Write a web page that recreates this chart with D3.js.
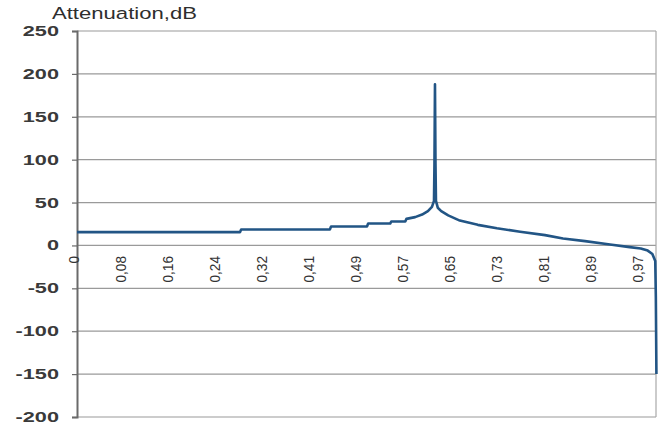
<!DOCTYPE html>
<html>
<head>
<meta charset="utf-8">
<script src="https://cdn.jsdelivr.net/npm/d3@7"></script>
<style>
  html, body { margin: 0; padding: 0; background: #fff; }
  svg { display: block; }
  text { font-family: "Liberation Sans", Arial, sans-serif; }
</style>
</head>
<body>
<svg id="chart" width="664" height="430"></svg>
<script>
// ---- data ----
const xValues = [0, 0.281, 0.283, 0.436, 0.438, 0.500, 0.502, 0.540, 0.542, 0.566, 0.568,
  0.583, 0.595, 0.605, 0.612, 0.6155, 0.6163, 0.6172, 0.6181, 0.6189, 0.622, 0.628, 0.640, 0.660, 0.691,
  0.724, 0.764, 0.807, 0.838, 0.876, 0.919, 0.953, 0.972, 0.984, 0.992, 0.997, 0.998, 0.999];
const yValues = [15.5, 15.5, 18.6, 18.6, 22, 22, 25.5, 25.5, 28, 28, 31,
  33, 36, 40, 45, 52, 95, 188, 95, 52, 44, 40, 35, 29, 24,
  20, 16, 12, 8, 5, 1, -2, -3.5, -6, -10, -18, -60, -150];
const yTicks = [-200, -150, -100, -50, 0, 50, 100, 150, 200, 250];
const xTickValues = [0, 0.081, 0.162, 0.243, 0.324, 0.405, 0.486, 0.567, 0.648, 0.729, 0.810, 0.891, 0.972];
const xTickLabels = ["0", "0,08", "0,16", "0,24", "0,32", "0,41", "0,49", "0,57", "0,65", "0,73", "0,81", "0,89", "0,97"];
const yTitle = "Attenuation,dB";

// ---- layout ----
const svg = d3.select("#chart");
const pLeft = 77, pRight = 656, pTop = 31, pBottom = 417;

const x = d3.scaleLinear().domain([0, 1]).range([pLeft, pLeft + 580]);
const y = d3.scaleLinear().domain([-200, 250]).range([pBottom, pTop]);

// gridlines
svg.append("g")
  .selectAll("line")
  .data(yTicks)
  .join("line")
  .attr("x1", pLeft).attr("x2", pRight)
  .attr("y1", d => y(d)).attr("y2", d => y(d))
  .attr("stroke", "#9a9a9a")
  .attr("stroke-width", 1.2);

// right border
svg.append("line")
  .attr("x1", pRight).attr("x2", pRight)
  .attr("y1", pTop).attr("y2", pBottom)
  .attr("stroke", "#a8a8a8").attr("stroke-width", 1.2);

// left axis
const yAxis = d3.axisLeft(y).tickValues(yTicks).tickSize(5).tickPadding(0).tickFormat(() => "");
const gy = svg.append("g").attr("transform", `translate(${pLeft},0)`).call(yAxis);
gy.select(".domain").attr("stroke", "#6a6a6a").attr("stroke-width", 2);
gy.selectAll(".tick line").attr("stroke", "#6a6a6a").attr("stroke-width", 1.2);

// y labels (horizontally stretched like the reference)
svg.append("g")
  .selectAll("text")
  .data(yTicks)
  .join("text")
  .attr("transform", d => `translate(59,${y(d) + 5}) scale(1.55,1)`)
  .attr("text-anchor", "end")
  .attr("font-size", 14)
  .attr("fill", "#3a3a3a")
  .attr("font-weight", "bold")
  .text(d => d);

// x labels along the zero line, rotated
svg.append("g")
  .selectAll("text")
  .data(xTickValues)
  .join("text")
  .attr("transform", d => `translate(${x(d) + 2},256) rotate(-90) scale(1.05,1.15)`)
  .attr("text-anchor", "end")
  .attr("font-size", 13)
  .attr("fill", "#333")
  .text((d, i) => xTickLabels[i]);

// axis title
svg.append("text")
  .attr("transform", "translate(52,19) scale(1.3,1)")
  .attr("font-size", 17)
  .attr("fill", "#2e2e2e")
  .text(yTitle);

// data line
const line = d3.line().x((d, i) => x(xValues[i])).y(d => y(d));
svg.append("path")
  .datum(yValues)
  .attr("d", line)
  .attr("fill", "none")
  .attr("stroke", "#225585")
  .attr("stroke-width", 2.6)
  .attr("stroke-linejoin", "round");
</script>
</body>
</html>
